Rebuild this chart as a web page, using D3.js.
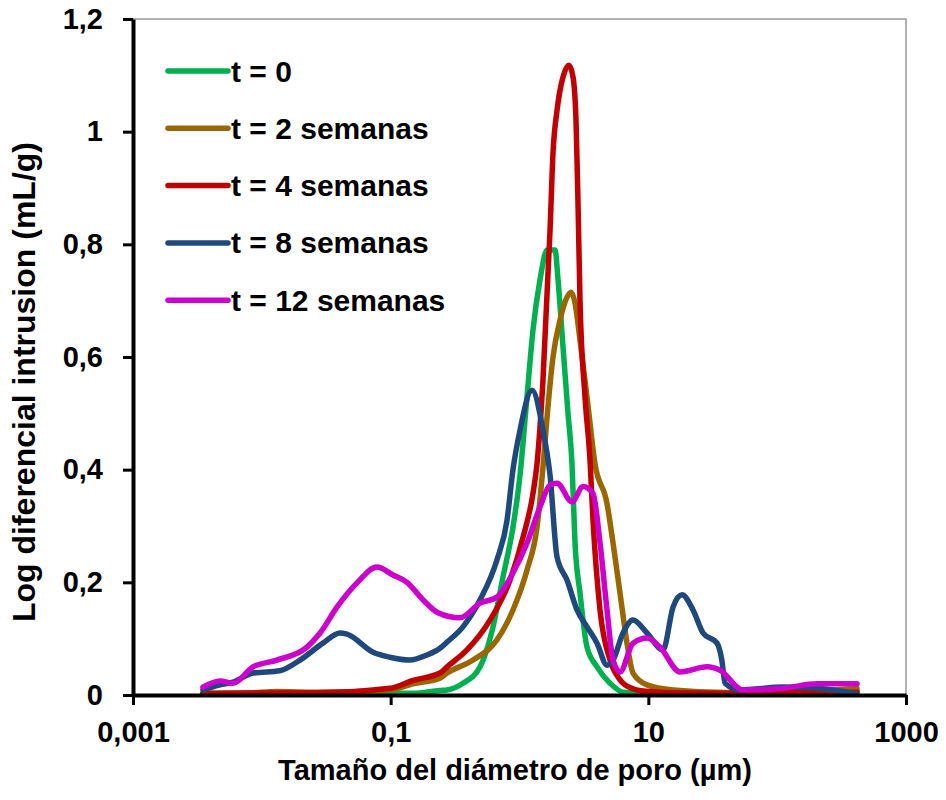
<!DOCTYPE html>
<html>
<head>
<meta charset="utf-8">
<script src="https://cdn.jsdelivr.net/npm/d3@7"></script>
<style>
  html, body { margin: 0; padding: 0; background: #fff; }
  svg { display: block; }
  text { font-family: "Liberation Sans", Arial, sans-serif; font-weight: bold; fill: #000; }
</style>
</head>
<body>
<svg id="chart" width="946" height="800"></svg>
<script>
// Pore diameter (µm) and log differential intrusion (mL/g) per curing time
const seriesNames = ["t = 0", "t = 2 semanas", "t = 4 semanas", "t = 8 semanas", "t = 12 semanas"];

const t0 = [
  [0.00349,0.003],[0.0131,0.002],[0.0988,0.003],[0.149,0.003],[0.2415,0.008],[0.274,0.009],
  [0.364,0.021],[0.494,0.05],[0.623,0.121],[0.745,0.21],[0.89,0.298],[1.009,0.39],[1.144,0.53],
  [1.273,0.648],[1.443,0.737],[1.636,0.79],[1.887,0.79],[1.991,0.737],[2.176,0.618],[2.38,0.5],
  [2.556,0.41],[2.697,0.27],[2.949,0.181],[3.342,0.085],[3.998,0.05],[5.042,0.021],[6.36,0.005],
  [9.767,0.003],[45.42,0.003],[111,0.005],[203.9,0.007],[416.7,0.008]
];

const t2 = [
  [0.00349,0.002],[0.00854,0.004],[0.0131,0.006],[0.0268,0.005],[0.0988,0.009],[0.149,0.02],
  [0.2415,0.03],[0.274,0.039],[0.436,0.062],[0.669,0.098],[0.89,0.151],[1.144,0.222],[1.367,0.298],
  [1.522,0.405],[1.636,0.493],[1.82,0.6],[2.064,0.666],[2.337,0.706],[2.511,0.715],[2.697,0.696],
  [2.949,0.63],[3.342,0.529],[3.856,0.41],[4.778,0.34],[5.319,0.27],[6.028,0.181],[6.83,0.092],
  [7.605,0.039],[9.767,0.018],[15.55,0.009],[45.42,0.004],[203.9,0.007],[416.7,0.012]
];

const t4 = [
  [0.00349,0.003],[0.0268,0.004],[0.0988,0.012],[0.149,0.026],[0.2415,0.039],[0.274,0.05],
  [0.391,0.08],[0.59,0.133],[0.844,0.204],[1.065,0.28],[1.273,0.358],[1.367,0.41],[1.522,0.56],
  [1.726,0.825],[1.82,0.962],[1.956,1.038],[2.176,1.097],[2.423,1.118],[2.603,1.097],[2.746,1.02],
  [2.846,0.873],[2.949,0.7],[3.225,0.529],[3.526,0.417],[3.721,0.31],[4.217,0.151],[5.042,0.062],
  [6.028,0.027],[7.605,0.011],[9.093,0.007],[15.55,0.004],[45.42,0.003],[203.9,0.004],[416.7,0.005]
];

const t8 = [
  [0.00349,0.009],[0.00474,0.018],[0.00597,0.023],[0.00854,0.039],[0.0138,0.043],[0.0198,0.062],
  [0.0298,0.092],[0.0404,0.11],[0.0458,0.108],[0.073,0.076],[0.0988,0.067],[0.141,0.062],
  [0.1915,0.071],[0.2415,0.083],[0.274,0.094],[0.364,0.121],[0.494,0.169],[0.669,0.24],[0.8,0.31],
  [0.89,0.4],[1.009,0.47],[1.251,0.541],[1.522,0.47],[1.726,0.39],[1.956,0.245],[2.337,0.204],
  [2.795,0.151],[3.342,0.121],[3.998,0.092],[4.778,0.053],[5.319,0.062],[6.36,0.11],[7.605,0.133],
  [9.767,0.11],[13.0,0.08],[15.55,0.156],[18.26,0.178],[22.23,0.151],[26.58,0.11],[34.14,0.092],
  [37.32,0.06],[39.37,0.021],[51.47,0.009],[111,0.014],[203.9,0.012],[416.7,0.002]
];

const t12 = [
  [0.00349,0.014],[0.00474,0.025],[0.00597,0.021],[0.00854,0.05],[0.0131,0.062],[0.0224,0.085],
  [0.0283,0.11],[0.0383,0.156],[0.0548,0.199],[0.0783,0.227],[0.1043,0.213],[0.134,0.2],
  [0.178,0.169],[0.233,0.146],[0.345,0.137],[0.494,0.163],[0.669,0.174],[0.89,0.217],[1.144,0.27],
  [1.443,0.334],[1.726,0.373],[1.956,0.376],[2.556,0.343],[3.112,0.37],[3.721,0.358],[4.217,0.27],
  [4.778,0.151],[5.319,0.062],[6.028,0.041],[7.605,0.092],[9.767,0.101],[12.32,0.085],[17.62,0.041],
  [28.55,0.05],[36.01,0.044],[54.31,0.009],[111,0.012],[203.9,0.02],[416.7,0.02]
];

const seriesValues = [t0, t2, t4, t8, t12];

const xTickValues = [0.001, 0.1, 10, 1000];
const xTickLabels = ["0,001", "0,1", "10", "1000"];
const yTickValues = [0, 0.2, 0.4, 0.6, 0.8, 1, 1.2];
const yTickLabels = ["0", "0,2", "0,4", "0,6", "0,8", "1", "1,2"];

const xTitle = "Tamaño del diámetro de poro (µm)";
const yTitle = "Log diferencial intrusion (mL/g)";

// Styling
const colors = ["#00B050", "#996600", "#C00000", "#1F497D", "#CC00CC"];
const plot = { left: 133, right: 906, top: 19, bottom: 695 };

const svg = d3.select("#chart");

const x = d3.scaleLog().domain([0.001, 1000]).range([plot.left, plot.right]);
const y = d3.scaleLinear().domain([0, 1.2]).range([plot.bottom, plot.top]);

// Plot area outline (top and right edges)
svg.append("path")
  .attr("d", `M${plot.left},${plot.top}H${plot.right}V${plot.bottom}`)
  .attr("fill", "none")
  .attr("stroke", "#999")
  .attr("stroke-width", 1.5);

// Curves
const line = d3.line()
  .x(d => x(d[0]))
  .y(d => y(d[1]))
  .curve(d3.curveMonotoneX);

svg.append("g")
  .selectAll("path")
  .data(seriesValues)
  .join("path")
  .attr("d", line)
  .attr("fill", "none")
  .attr("stroke", (d, i) => colors[i])
  .attr("stroke-width", 5.5)
  .attr("stroke-linejoin", "round")
  .attr("stroke-linecap", "round");

// Axes
const xAxis = d3.axisBottom(x)
  .tickValues(xTickValues)
  .tickFormat((d, i) => xTickLabels[i])
  .tickSize(10)
  .tickSizeOuter(0)
  .tickPadding(16);

const yAxis = d3.axisLeft(y)
  .tickValues(yTickValues)
  .tickFormat((d, i) => yTickLabels[i])
  .tickSize(10)
  .tickSizeOuter(0)
  .tickPadding(20);

const gx = svg.append("g")
  .attr("transform", `translate(0,${plot.bottom})`)
  .call(xAxis);

const gy = svg.append("g")
  .attr("transform", `translate(${plot.left},0)`)
  .call(yAxis);

[gx, gy].forEach(g => {
  g.select(".domain").attr("stroke", "#000").attr("stroke-width", 4);
  g.selectAll(".tick line").attr("stroke", "#000").attr("stroke-width", 3);
  g.selectAll(".tick text")
    .attr("fill", "#000")
    .style("font-family", '"Liberation Sans", Arial, sans-serif')
    .style("font-weight", "bold")
    .style("font-size", "29px");
});

// Axis titles
svg.append("text")
  .attr("x", 515)
  .attr("y", 780)
  .attr("text-anchor", "middle")
  .style("font-size", "29px")
  .text(xTitle);

svg.append("text")
  .attr("transform", `translate(35,382) rotate(-90)`)
  .attr("text-anchor", "middle")
  .style("font-size", "32px")
  .text(yTitle);

// Legend
const legend = svg.append("g")
  .selectAll("g")
  .data(seriesNames)
  .join("g")
  .attr("transform", (d, i) => `translate(168,${71 + i * 57.3})`);

legend.append("line")
  .attr("x1", 0).attr("x2", 60)
  .attr("y1", 0).attr("y2", 0)
  .attr("stroke", (d, i) => colors[i])
  .attr("stroke-width", 5.5)
  .attr("stroke-linecap", "round");

legend.append("text")
  .attr("x", 63)
  .attr("dy", "0.35em")
  .style("font-size", "30px")
  .text(d => d);
</script>
</body>
</html>
